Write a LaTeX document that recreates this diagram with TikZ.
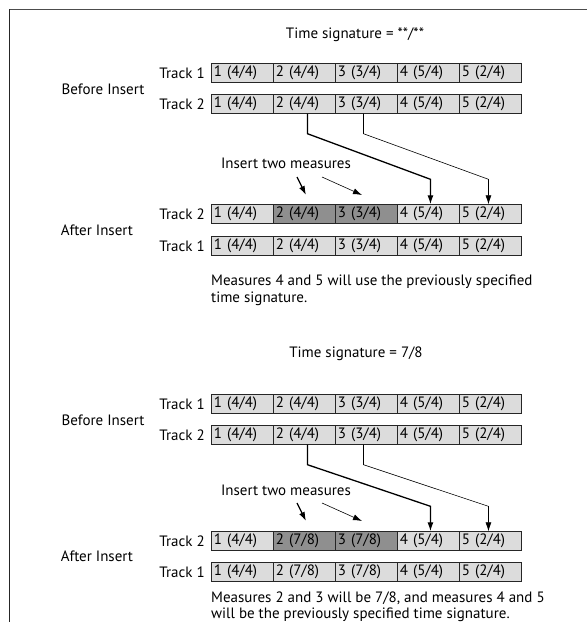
\documentclass[tikz,border=0pt]{standalone}
\usepackage{fontspec}
\setmainfont{PT Sans}
\usetikzlibrary{arrows.meta}
\definecolor{cl}{HTML}{DCDCDC}
\definecolor{cd}{HTML}{8F8F8F}
\newcommand\mrow[8]{%
  \node[lbl] (#1l) at (205,#2) {#3};
  \node[cell] (#1c1) at (211,#2) {#4};
  \node[cell,mid] (#1c2) at (273,#2) {#5};
  \node[cell,mid] (#1c3) at (335,#2) {#6};
  \node[cell] (#1c4) at (397,#2) {#7};
  \node[cell] (#1c5) at (459,#2) {#8};
}
\begin{document}
\begin{tikzpicture}[x=1pt,y=-1pt,
  every node/.style={font=\fontsize{15}{16.5}\selectfont, inner sep=0pt},
  cell/.style={draw=black!85, line width=0.9pt, fill=cl, minimum height=18.5pt,
    text width=57pt, inner xsep=2.5pt, align=left, anchor=west},
  mid/.style={},
  lbl/.style={anchor=east},
  bigarrow/.style={line width=1.3pt, -{Latex[length=9pt,width=6pt]}},
  thinarrow/.style={line width=0.6pt, -{Latex[length=9pt,width=6pt]}},
]
\useasboundingbox (0,0) rectangle (587,622);
\draw[black!70, line width=1pt] (9,9) -- (587,9);
\draw[black!85, line width=1pt] (9,9) -- (9,622);

% ---------- section 1
\node (ts1) at (355,35) {Time signature = **/**};
\tikzset{mid/.style={}}
\mrow{a}{73}{Track 1}{1 (4/4)}{2 (4/4)}{3 (3/4)}{4 (5/4)}{5 (2/4)}
\node (bi1) at (103,89) {Before Insert};
\mrow{b}{104}{Track 2}{1 (4/4)}{2 (4/4)}{3 (3/4)}{4 (5/4)}{5 (2/4)}
\node (ins1) at (286,163) {Insert two measures};
\tikzset{mid/.style={fill=cd}}
\mrow{c}{214}{Track 2}{1 (4/4)}{2 (4/4)}{3 (3/4)}{4 (5/4)}{5 (2/4)}
\node (ai1) at (97,230) {After Insert};
\tikzset{mid/.style={}}
\mrow{d}{246}{Track 1}{1 (4/4)}{2 (4/4)}{3 (3/4)}{4 (5/4)}{5 (2/4)}
\node[anchor=base west, align=left] (m1) at (211,302)
  {Measures 4 and 5 will use the previously specified\\time signature.};

\draw[bigarrow] ([xshift=3pt]bc2.south) -- ++(0,20) -- ([xshift=2pt,yshift=25pt]cc4.north) -- ([xshift=2pt]cc4.north);
\draw[thinarrow] ([xshift=-3pt]bc3.south) -- ++(0,20) -- ([xshift=-2pt,yshift=25pt]cc5.north) -- ([xshift=-2pt]cc5.north);
\coordinate (s1a) at (297,177); \coordinate (s1b) at (306,195);
\coordinate (s1c) at (322,177); \coordinate (s1d) at (362,195);
\draw[bigarrow] (s1a) -- (s1b);
\draw[thinarrow] (s1c) -- (s1d);

% ---------- section 2
\node (ts2) at (356,354) {Time signature = 7/8};
\tikzset{mid/.style={}}
\mrow{e}{404}{Track 1}{1 (4/4)}{2 (4/4)}{3 (3/4)}{4 (5/4)}{5 (2/4)}
\node (bi2) at (103,420) {Before Insert};
\mrow{f}{435}{Track 2}{1 (4/4)}{2 (4/4)}{3 (3/4)}{4 (5/4)}{5 (2/4)}
\node (ins2) at (286,490) {Insert two measures};
\tikzset{mid/.style={fill=cd}}
\mrow{g}{541}{Track 2}{1 (4/4)}{2 (7/8)}{3 (7/8)}{4 (5/4)}{5 (2/4)}
\node (ai2) at (97,556) {After Insert};
\tikzset{mid/.style={}}
\mrow{h}{572}{Track 1}{1 (4/4)}{2 (7/8)}{3 (7/8)}{4 (5/4)}{5 (2/4)}
\node[anchor=base west, align=left, font=\fontsize{15}{16}\selectfont] (m2) at (211,618)
  {Measures 2 and 3 will be 7/8, and measures 4 and 5\\will be the previously specified time signature.};

\draw[bigarrow] ([xshift=3pt]fc2.south) -- ++(0,20) -- ([xshift=2pt,yshift=25pt]gc4.north) -- ([xshift=2pt]gc4.north);
\draw[thinarrow] ([xshift=-3pt]fc3.south) -- ++(0,20) -- ([xshift=-2pt,yshift=25pt]gc5.north) -- ([xshift=-2pt]gc5.north);
\coordinate (s2a) at (297,503); \coordinate (s2b) at (306,521);
\coordinate (s2c) at (322,503); \coordinate (s2d) at (362,521);
\draw[bigarrow] (s2a) -- (s2b);
\draw[thinarrow] (s2c) -- (s2d);
\end{tikzpicture}
\end{document}
